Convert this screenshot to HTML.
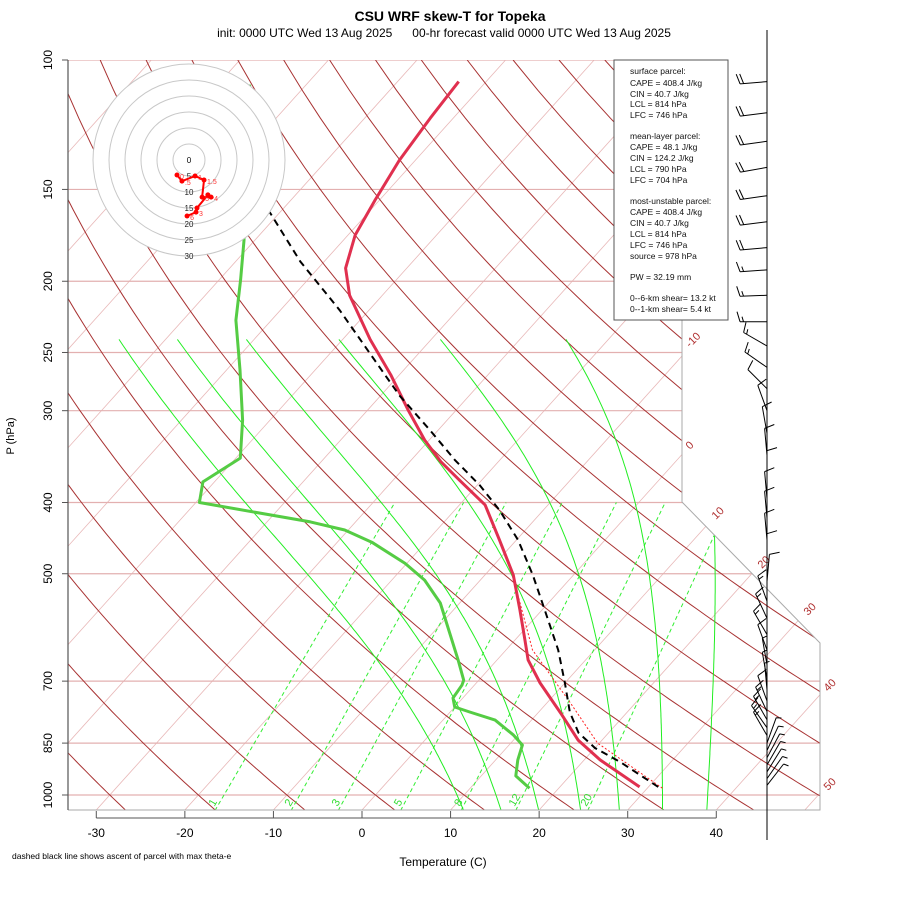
<!DOCTYPE html>
<html><head><meta charset="utf-8"><style>
body{margin:0;background:#fff;}
svg{display:block;font-family:"Liberation Sans",sans-serif;}
</style></head><body>
<svg id="chart" width="900" height="900" viewBox="0 0 900 900">
<defs><clipPath id="plotclip"><polygon points="68,60 682,60 682,502 820,643 820,810 68,810"/></clipPath></defs>
<text x="450" y="21" text-anchor="middle" font-size="14" font-weight="bold">CSU WRF skew-T for Topeka</text>
<text x="444" y="37" text-anchor="middle" font-size="12" xml:space="preserve">init: 0000 UTC Wed 13 Aug 2025      00-hr forecast valid 0000 UTC Wed 13 Aug 2025</text>
<g id="grid" clip-path="url(#plotclip)"></g>
<g id="series" clip-path="url(#plotclip)"></g>
<g id="axes"></g>
<g id="hodo"></g>
<g id="barbs"></g>
<g>
<rect x="614" y="60" width="114" height="260" fill="#fff" stroke="#555" stroke-width="1"/>
<text font-size="8.5" fill="#111">
<tspan x="630" y="74">surface parcel:</tspan>
<tspan x="630" y="86">CAPE = 408.4 J/kg</tspan>
<tspan x="630" y="97">CIN = 40.7 J/kg</tspan>
<tspan x="630" y="107">LCL = 814 hPa</tspan>
<tspan x="630" y="118">LFC = 746 hPa</tspan>
<tspan x="630" y="139">mean-layer parcel:</tspan>
<tspan x="630" y="150">CAPE = 48.1 J/kg</tspan>
<tspan x="630" y="161">CIN = 124.2 J/kg</tspan>
<tspan x="630" y="172">LCL = 790 hPa</tspan>
<tspan x="630" y="183">LFC = 704 hPa</tspan>
<tspan x="630" y="204">most-unstable parcel:</tspan>
<tspan x="630" y="215">CAPE = 408.4 J/kg</tspan>
<tspan x="630" y="226">CIN = 40.7 J/kg</tspan>
<tspan x="630" y="237">LCL = 814 hPa</tspan>
<tspan x="630" y="248">LFC = 746 hPa</tspan>
<tspan x="630" y="259">source = 978 hPa</tspan>
<tspan x="630" y="280">PW =  32.19 mm</tspan>
<tspan x="630" y="301">0--6-km shear= 13.2 kt</tspan>
<tspan x="630" y="312">0--1-km shear= 5.4 kt</tspan>
</text></g>
<text x="443" y="866" text-anchor="middle" font-size="12">Temperature (C)</text>
<text transform="translate(14,436) rotate(-90)" text-anchor="middle" font-size="11">P (hPa)</text>
<text x="12" y="859" font-size="8.5">dashed black line shows ascent of parcel with max theta-e</text>
</svg>
<script>
// ---- data ----
const tempP = [975,896,842,778,704,655,615,560,502,450,403,373,352,329,299,268,240,209,192,173,155,137,120,107];
const tempT = [29.0,21.8,17.3,12.9,7.2,3.5,1.1,-2.5,-6.8,-11.9,-17.1,-22.5,-26.5,-30.5,-35.5,-41.0,-46.9,-53.7,-56.9,-59.2,-60.5,-61.8,-62.6,-63.1];
const dewP = [979,942,896,855,829,791,771,759,738,709,698,655,548,510,484,453,436,425,400,375,348,309,264,226,199,176,155,108];
const dewT = [16.7,13.9,12.5,11.5,9.5,5.9,2.2,0.0,-1.1,-1.4,-1.7,-4.4,-12.2,-16.3,-20.2,-26.1,-30.4,-35.1,-49.6,-51.3,-49.5,-53.1,-58.5,-64.0,-67.6,-71.2,-75.2,-86.4];
const parcelP = [975,902,863,823,771,704,635,560,502,450,410,379,350,319,286,256,219,188,161];
const parcelT = [31.1,24.3,20.0,16.6,13.5,10.0,5.9,0.3,-4.6,-9.8,-14.9,-19.7,-25.1,-30.9,-37.9,-44.3,-53.3,-62.7,-71.2];
const virtP = [979,850,750,635,515];
const virtT = [31.7,19.8,12.7,3.0,-5.8];
const isobars = [100,150,200,250,300,400,500,700,850,1000];
const xTicks = [-30,-20,-10,0,10,20,30,40];
const mixRatios = [1,2,3,5,8,12,20];
const moistStarts = [9.2,13.6,18,22.9,27.4,32.4,37.5];
const hodoU = [-3.75,-2.2,1.9,4.7,4.1,6.9,5.9,2.5,2.2,-0.6];
const hodoV = [-4.7,-6.6,-5.0,-6.25,-11.6,-11.6,-10.9,-15,-16.3,-17.5];
const hodoLabels = ['0','.5','1','1.5','5','4','','','3','6'];
const hodoRings = [5,10,15,20,25,30];
const barbP = [107,118,129,140,153,166,180,193,209,227,245,262,280,300,322,345,370,395,420,450,480,512,545,575,605,635,665,695,720,745,770,790,810,830,850,870,890,910,930,950,970];
const barbDir = [265,263,262,260,262,263,265,266,268,270,300,305,315,340,350,355,0,355,355,355,0,5,340,335,330,340,350,350,355,340,335,330,325,330,20,25,28,30,32,35,38];
const barbSpd = [20,20,20,20,20,20,20,15,15,15,15,15,10,10,12,12,12,12,12,12,12,10,15,15,15,10,8,8,8,10,15,15,15,15,8,8,8,8,8,8,8];
// ---- scales ----
const K=0.9, PX=8.857, X0=362;
function Y(p){return 60+319.2*Math.log(p/100);}
function X(T,p){return X0+PX*T+(810-Y(p))*K;}
const NS='http://www.w3.org/2000/svg';
function mk(tag,attrs,parent){const e=document.createElementNS(NS,tag);for(const k in attrs)e.setAttribute(k,attrs[k]);parent.appendChild(e);return e;}
function pathFrom(ps,ts){return ps.map((p,i)=>(i?'L':'M')+X(ts[i],p).toFixed(1)+','+Y(p).toFixed(1)).join('');}
const grid=document.getElementById('grid'),series=document.getElementById('series'),axes=document.getElementById('axes');
for(let T=-160;T<=60;T+=10){
  const l=mk('line',{x1:X(T,1050),y1:Y(1050),x2:X(T,100),y2:Y(100),stroke:'#e8b8b8','stroke-width':0.8},grid);
  
  
}
isobars.forEach(p=>{
  const l=mk('line',{x1:68,y1:Y(p),x2:820,y2:Y(p),stroke:'#e3b0b0','stroke-width':1.2},grid);
  
  
});
for(let th=-30;th<=200;th+=10){
  let d='';
  for(let p=1050;p>=100;p-=10){const T=(th+273.15)*Math.pow(p/1000,0.2857)-273.15;d+=(d?'L':'M')+X(T,p).toFixed(1)+','+Y(p).toFixed(1);}
  const e=mk('path',{d:d,fill:'none',stroke:'#a83232','stroke-width':1},grid);
  
  
}
function es(T){return 6.112*Math.exp(17.67*T/(T+243.5));}
function tdFromW(w,p){const e=w*p/(622+w);const l=Math.log(e/6.112);return 243.5*l/(17.67-l);}
mixRatios.forEach(w=>{
  const e=mk('line',{x1:X(tdFromW(w,1050),1050),y1:Y(1050),x2:X(tdFromW(w,400),400),y2:Y(400),stroke:'#33ee33','stroke-width':1,'stroke-dasharray':'4,3'},grid);
  
  
  const x=X(tdFromW(w,1030),1030);
  const t=mk('text',{x:x-4,y:807,'font-size':11,fill:'#33dd33',transform:'rotate(-60 '+(x-4)+' 807)'},axes);
  t.textContent=w;
  
  
});
function moistPath(T0){
  let T=T0+273.15,p=1000,pts=[];const Rd=287,cp=1005,Lv=2.5e6,eps=0.622,F=0.77;
  function step(p,T,dl){const e=es(T-273.15);const rs=F*eps*e/(p-e);return dl*(Rd*T+Lv*rs)/(cp+Lv*Lv*rs*eps/(Rd*T*T));}
  let Tb=T;for(let q=1000;q<1050;q+=5){Tb+=step(q,Tb,Math.log((q+5)/q));}
  pts.push([1050,Tb-273.15]);pts.push([1000,T-273.15]);
  while(p>240){const np=p-5;T+=step(p,T,Math.log(np/p));p=np;pts.push([p,T-273.15]);}
  return pts.map((a,i)=>(i?'L':'M')+X(a[1],a[0]).toFixed(1)+','+Y(a[0]).toFixed(1)).join('');
}
moistStarts.forEach(T0=>{
  const e=mk('path',{d:moistPath(T0),fill:'none',stroke:'#22ee22','stroke-width':1},grid);
  
  
});
const dp=mk('path',{d:pathFrom(dewP,dewT),fill:'none',stroke:'#55cc44','stroke-width':3,'stroke-linejoin':'round'},series);


const vp=mk('path',{d:pathFrom(virtP,virtT),fill:'none',stroke:'#f22','stroke-width':1,'stroke-dasharray':'2,2'},series);


const tp=mk('path',{d:pathFrom(tempP,tempT),fill:'none',stroke:'#e0304f','stroke-width':3,'stroke-linejoin':'round'},series);


const pp=mk('path',{d:pathFrom(parcelP,parcelT),fill:'none',stroke:'#000','stroke-width':2,'stroke-dasharray':'7,5'},series);


const b=mk('polyline',{points:'682,60 682,502 820,643 820,810 68,810',fill:'none',stroke:'#aaa','stroke-width':1},axes);


const la=mk('line',{x1:68,y1:60,x2:68,y2:810,stroke:'#555','stroke-width':1.2},axes);


[['-10',690,348],['0',690,450],['10',716,520],['20',762,569],['30',808,616],['40',828,692],['50',828,791]].forEach(a=>{
  const t=mk('text',{x:a[1],y:a[2],'font-size':11,fill:'#b03030',transform:'rotate(-45 '+a[1]+' '+a[2]+')'},axes);
  t.textContent=a[0];
  
  
});
isobars.forEach(p=>{
  const y=Y(p);
  const l=mk('line',{x1:62,y1:y,x2:68,y2:y,stroke:'#555'},axes);
  
  
  const t=mk('text',{x:52,y:y,'font-size':12,'text-anchor':'middle',transform:'rotate(-90 52 '+y+')'},axes);
  t.textContent=p;
  
  
});
xTicks.forEach(T=>{
  const x=X0+PX*T;
  const l=mk('line',{x1:x,y1:811,x2:x,y2:818,stroke:'#555'},axes);
  
  
  const t=mk('text',{x:x,y:837,'font-size':12,'text-anchor':'middle'},axes);
  t.textContent=T;
  
  
});
const xl=mk('line',{x1:X0+PX*-30,y1:818,x2:X0+PX*40,y2:818,stroke:'#555'},axes);


const hodo=document.getElementById('hodo');const HX=189,HY=160,HS=3.2;
[...hodoRings].reverse().forEach((r,i)=>{
  const c=mk('circle',{cx:HX,cy:HY,r:r*HS,fill:i==0?'#fff':'none',stroke:'#c8c8c8','stroke-width':1},hodo);
  
  
});
hodoRings.forEach(r=>{
  const t=mk('text',{x:HX,y:HY+r*HS+3,'font-size':8,'text-anchor':'middle',fill:'#222'},hodo);
  t.textContent=r;
  
  
});
const h0=mk('text',{x:HX,y:HY+3,'font-size':8,'text-anchor':'middle'},hodo);h0.textContent='0';


const hp=mk('path',{d:hodoU.map((u,i)=>(i?'L':'M')+(HX+u*HS)+','+(HY-hodoV[i]*HS)).join(''),fill:'none',stroke:'#f00','stroke-width':2},hodo);


hodoU.forEach((u,i)=>{
  const x=HX+u*HS,y=HY-hodoV[i]*HS;
  const c=mk('circle',{cx:x,cy:y,r:2.5,fill:'#f00'},hodo);
  
  
  if(hodoLabels[i]){const t=mk('text',{x:x+3,y:y+4,'font-size':7,fill:'#f33'},hodo);t.textContent=hodoLabels[i];
  
  }
});
const barbs=document.getElementById('barbs');const SX=767;
const st=mk('line',{x1:SX,y1:30,x2:SX,y2:840,stroke:'#000','stroke-width':1},barbs);


barbP.forEach((p,i)=>{
  const y=Y(p),a=barbDir[i]*Math.PI/180,L=27;
  const dx=Math.sin(a),dy=-Math.cos(a);
  const ex=SX+dx*L,ey=y+dy*L;
  let d='M'+SX+','+y.toFixed(1)+'L'+ex.toFixed(1)+','+ey.toFixed(1);
  const px=-dy,py=dx;
  let s=barbSpd[i],pos=0;
  while(s>=10){const bx=ex-dx*pos,by=ey-dy*pos;d+='M'+bx.toFixed(1)+','+by.toFixed(1)+'l'+(px*10+dx*3).toFixed(1)+','+(py*10+dy*3).toFixed(1);s-=10;pos+=3.5;}
  if(s>=5){const bx=ex-dx*pos,by=ey-dy*pos;d+='M'+bx.toFixed(1)+','+by.toFixed(1)+'l'+(px*5+dx*1.5).toFixed(1)+','+(py*5+dy*1.5).toFixed(1);}
  const e=mk('path',{d:d,fill:'none',stroke:'#000','stroke-width':1},barbs);
  
  
});
</script>
</body></html>
